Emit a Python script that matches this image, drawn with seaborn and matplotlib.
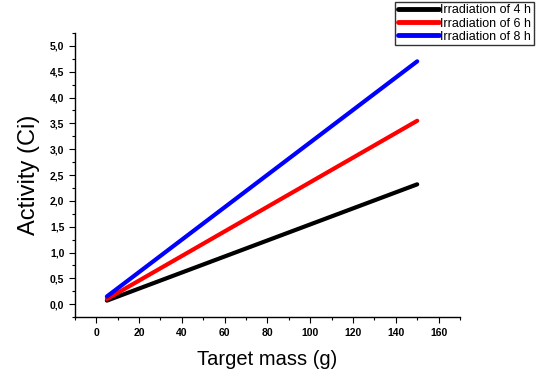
import pandas as pd
import matplotlib.pyplot as plt
import matplotlib.ticker as mticker
import seaborn as sns

# endpoints of the three fitted lines (target mass g -> activity Ci)
mass = [5, 150]
act_4h = [0.07, 2.32]
act_6h = [0.10, 3.55]
act_8h = [0.15, 4.70]
labels = ['Irradiation of 4 h', 'Irradiation of 6 h', 'Irradiation of 8 h']
colors = ['black', 'red', 'blue']

df = pd.DataFrame({
    'mass': mass * 3,
    'activity': act_4h + act_6h + act_8h,
    'series': [labels[0]] * 2 + [labels[1]] * 2 + [labels[2]] * 2,
})

sns.set_style('ticks', {'axes.edgecolor': 'black', 'text.color': 'black',
                        'axes.labelcolor': 'black', 'xtick.color': 'black',
                        'ytick.color': 'black'})
plt.rcParams['font.family'] = ['Liberation Sans', 'DejaVu Sans']

fig = plt.figure(figsize=(5.38, 3.74), dpi=100)
ax = fig.add_axes([0.139, 0.152, 0.716, 0.76])
sns.lineplot(data=df, x='mass', y='activity', hue='series', palette=colors,
             linewidth=3, ax=ax, legend=True)

ax.set_xlim(-10, 170)
ax.set_ylim(-0.25, 5.25)
ax.xaxis.set_major_locator(mticker.MultipleLocator(20))
ax.xaxis.set_minor_locator(mticker.MultipleLocator(10))
ax.yaxis.set_major_locator(mticker.MultipleLocator(0.5))
ax.yaxis.set_minor_locator(mticker.MultipleLocator(0.25))
ax.yaxis.set_major_formatter(mticker.FuncFormatter(lambda v, p: f'{v:.1f}'.replace('.', ',')))
ax.tick_params(which='major', length=4, width=0.8, labelsize=7.5, direction='out')
ax.tick_params(which='minor', length=2, width=0.8, direction='out')
for t in ax.get_xticklabels() + ax.get_yticklabels():
    t.set_fontweight('bold')
sns.despine(ax=ax)
ax.spines['left'].set_linewidth(1)
ax.spines['bottom'].set_linewidth(1)

ax.set_xlabel('Target mass (g)', fontsize=14.5, labelpad=9)
ax.set_ylabel('Activity (Ci)', fontsize=17, labelpad=7)

leg = ax.legend(loc='upper right', bbox_to_anchor=(0.992, 0.995), bbox_transform=fig.transFigure,
                fontsize=9, frameon=True, fancybox=False, handlelength=3.3,
                borderpad=0.2, labelspacing=0.1, handletextpad=0.1, borderaxespad=0)
leg.get_frame().set_edgecolor('black')
leg.get_frame().set_linewidth(1)
for h in leg.get_lines():
    h.set_linewidth(3.5)

fig.savefig('out.png', dpi=100)
